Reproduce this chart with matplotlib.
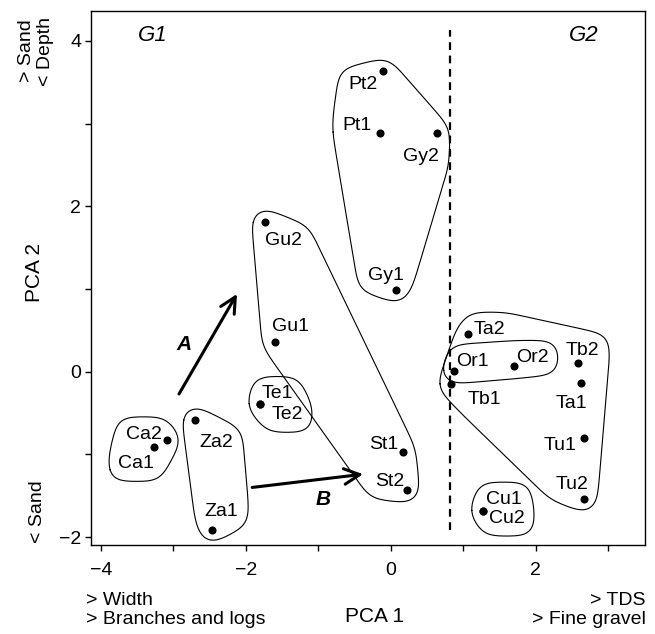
import numpy as np
import matplotlib
matplotlib.use("Agg")
import matplotlib.pyplot as plt
from matplotlib.ticker import MultipleLocator

plt.rcParams['font.family'] = ['Liberation Sans', 'DejaVu Sans']

# ---------------- data ----------------
sites = ["Pt2", "Pt1", "Gy2", "Gy1", "Gu2", "Gu1", "Te1", "Te2", "Za2", "Za1",
         "Ca2", "Ca1", "St1", "St2", "Ta2", "Or1", "Tb1", "Or2", "Tb2", "Ta1",
         "Tu1", "Tu2", "Cu1", "Cu2"]
pca1 = [-0.10, -0.15, 0.64, 0.08, -1.74, -1.60, -1.80, -1.80, -2.70, -2.47,
        -3.08, -3.26, 0.17, 0.22, 1.07, 0.88, 0.83, 1.70, 2.58, 2.62,
        2.67, 2.67, 1.27, 1.27]
pca2 = [3.63, 2.89, 2.89, 0.99, 1.81, 0.36, -0.39, -0.39, -0.58, -1.91,
        -0.83, -0.91, -0.97, -1.43, 0.46, 0.01, -0.15, 0.07, 0.10, -0.14,
        -0.80, -1.54, -1.68, -1.68]

groups = [["Pt2", "Pt1", "Gy2", "Gy1"],
          ["Gu2", "Gu1", "St1", "St2"],
          ["Te1", "Te2"],
          ["Ca2", "Ca1"],
          ["Za2", "Za1"],
          ["Or1", "Or2"],
          ["Ta2", "Tb1", "Tb2", "Ta1", "Tu1", "Tu2"],
          ["Cu1", "Cu2"]]

split_x = 0.82          # boundary between G1 and G2
x_ticks = [-4, -2, 0, 2]
y_ticks = [-2, 0, 2, 4]

# ---------------- label placement (pixels offsets, alignment) ----------------
label_style = {
    "Pt2": ("right", -6, -11), "Pt1": ("right", -8, 9), "Gy2": ("right", 2, -22),
    "Gy1": ("center", -11, 16), "Gu2": ("left", 0, -17), "Gu1": ("left", -3, 17),
    "Te1": ("left", 1, 12), "Te2": ("left", 11, -9), "Za2": ("left", 4, -21),
    "Za1": ("center", 10, 20), "Ca2": ("right", -6, 8), "Ca1": ("right", 0, -15),
    "St1": ("right", -5, 9), "St2": ("right", -2, 10), "Ta2": ("left", 5, 6),
    "Or1": ("left", 2, 11), "Or2": ("left", 2, 10), "Tb1": ("left", 17, -13),
    "Tb2": ("center", 5, 15), "Ta1": ("right", 7, -18), "Tu1": ("right", -8, -6),
    "Tu2": ("right", 4, 17), "Cu1": ("left", 3, 13), "Cu2": ("left", 6, -6),
}

W, H = 655, 634
fig = plt.figure(figsize=(W / 100, H / 100), dpi=100)
ax = fig.add_axes([91 / W, 1 - 545 / H, (645 - 91) / W, (545 - 11) / H])

ax.set_xlim(-4.134, 3.508)
ax.set_ylim(-2.096, 4.361)

ax.scatter(pca1, pca2, s=34, color="black", zorder=3, linewidths=0)

texts = {}
for name, x, y in zip(sites, pca1, pca2):
    ha, dx, dy = label_style[name]
    texts[name] = ax.annotate(name, (x, y), xytext=(dx, dy - 2),
                              textcoords="offset pixels", ha=ha, va="center",
                              fontsize=14, color="black", zorder=4)

# dividing line
ax.vlines(split_x, -1.91, 4.13, colors="black", linestyles=(0, (3.5, 2.5)),
          linewidth=1.6)

# arrows A and B
arrowA = ((-2.92, -0.27), (-2.12, 0.94))
arrowB = ((-1.91, -1.40), (-0.38, -1.24))
for (s, e) in (arrowA, arrowB):
    ax.annotate("", xy=e, xytext=s,
                arrowprops=dict(arrowstyle="->,head_length=0.7,head_width=0.35",
                                lw=2.2, color="black", shrinkA=0, shrinkB=0,
                                mutation_scale=16))
ax.text(-2.85, 0.33, "A", fontsize=15, fontweight="bold", fontstyle="italic",
        ha="center", va="center")
ax.text(-0.93, -1.54, "B", fontsize=15, fontweight="bold", fontstyle="italic",
        ha="center", va="center")

ax.text(-3.28, 4.07, "G1", fontsize=16, fontstyle="italic", ha="center", va="center")
ax.text(2.66, 4.07, "G2", fontsize=16, fontstyle="italic", ha="center", va="center")

# axes styling
for sp in ax.spines.values():
    sp.set_linewidth(1.0)
ax.set_xticks(x_ticks)
ax.set_yticks(y_ticks)
ax.xaxis.set_minor_locator(MultipleLocator(1))
ax.yaxis.set_minor_locator(MultipleLocator(1))
ax.tick_params(which="both", direction="out", length=4, width=1.0, labelsize=14)
ax.tick_params(axis="x", pad=8)
ax.tick_params(axis="y", pad=3)


def fx(px):
    return px / W


def fy(py):
    return 1 - py / H


fig.text(fx(34), fy(272), "PCA 2", rotation=90, fontsize=15, ha="center", va="center")
fig.text(fx(36), fy(51), "> Sand\n< Depth", rotation=90, fontsize=14,
         ha="center", va="center", multialignment="center", linespacing=1.1)
fig.text(fx(38), fy(512), "< Sand", rotation=90, fontsize=14, ha="center", va="center")
fig.text(fx(375), fy(616), "PCA 1", fontsize=15, ha="center", va="center")
fig.text(fx(86), fy(610), "> Width\n> Branches and logs", fontsize=14,
         ha="left", va="center", linespacing=1.15)
fig.text(fx(646), fy(610), "> TDS\n> Fine gravel", fontsize=14,
         ha="right", va="center", multialignment="right", linespacing=1.15)

# ---------------- group outlines (smoothed padded hulls) ----------------
fig.canvas.draw()
renderer = fig.canvas.get_renderer()
pos = {n: (x, y) for n, x, y in zip(sites, pca1, pca2)}


def convex_hull(pts):
    pts = sorted(set(map(tuple, pts)))
    if len(pts) <= 2:
        return pts

    def cross(o, a, b):
        return (a[0] - o[0]) * (b[1] - o[1]) - (a[1] - o[1]) * (b[0] - o[0])
    lower, upper = [], []
    for p in pts:
        while len(lower) >= 2 and cross(lower[-2], lower[-1], p) <= 0:
            lower.pop()
        lower.append(p)
    for p in reversed(pts):
        while len(upper) >= 2 and cross(upper[-2], upper[-1], p) <= 0:
            upper.pop()
        upper.append(p)
    return lower[:-1] + upper[:-1]


def resample_closed(poly, step=1.0):
    P = np.vstack([poly, poly[:1]])
    seg = np.hypot(*np.diff(P, axis=0).T)
    s = np.concatenate([[0], np.cumsum(seg)])
    n = max(int(s[-1] / step), 20)
    t = np.linspace(0, s[-1], n, endpoint=False)
    return np.column_stack([np.interp(t, s, P[:, 0]), np.interp(t, s, P[:, 1])]), s[-1] / n


def smooth_closed(P, sigma_px, step):
    n = len(P)
    sig = sigma_px / step
    k = np.arange(-int(4 * sig), int(4 * sig) + 1)
    w = np.exp(-0.5 * (k / sig) ** 2)
    w /= w.sum()
    out = np.zeros_like(P)
    for kk, ww in zip(k, w):
        out += ww * np.roll(P, kk, axis=0)
    return out


ang = np.linspace(0, 2 * np.pi, 36, endpoint=False)
circ = np.column_stack([np.cos(ang), np.sin(ang)])
pad = 11.0
inv = ax.transData.inverted()
for grp in groups:
    pix = []
    for n in grp:
        c = ax.transData.transform(pos[n])
        pix.extend(c + circ * (pad + 2))
        bb = texts[n].get_window_extent(renderer)
        for cx in (bb.x0 + 1, bb.x1 - 1):
            for cy in (bb.y0 + 2, bb.y1 - 2):
                pix.extend(np.array([cx, cy]) + circ * pad)
    hull = np.array(convex_hull(np.round(np.array(pix), 3)), dtype=float)
    P, step = resample_closed(hull, 1.0)
    sm = smooth_closed(P, 9.0, step)
    sm = np.vstack([sm, sm[:1]])
    d = inv.transform(sm)
    ax.plot(d[:, 0], d[:, 1], color="black", lw=0.8, zorder=2)

fig.savefig("out.png", dpi=100)
